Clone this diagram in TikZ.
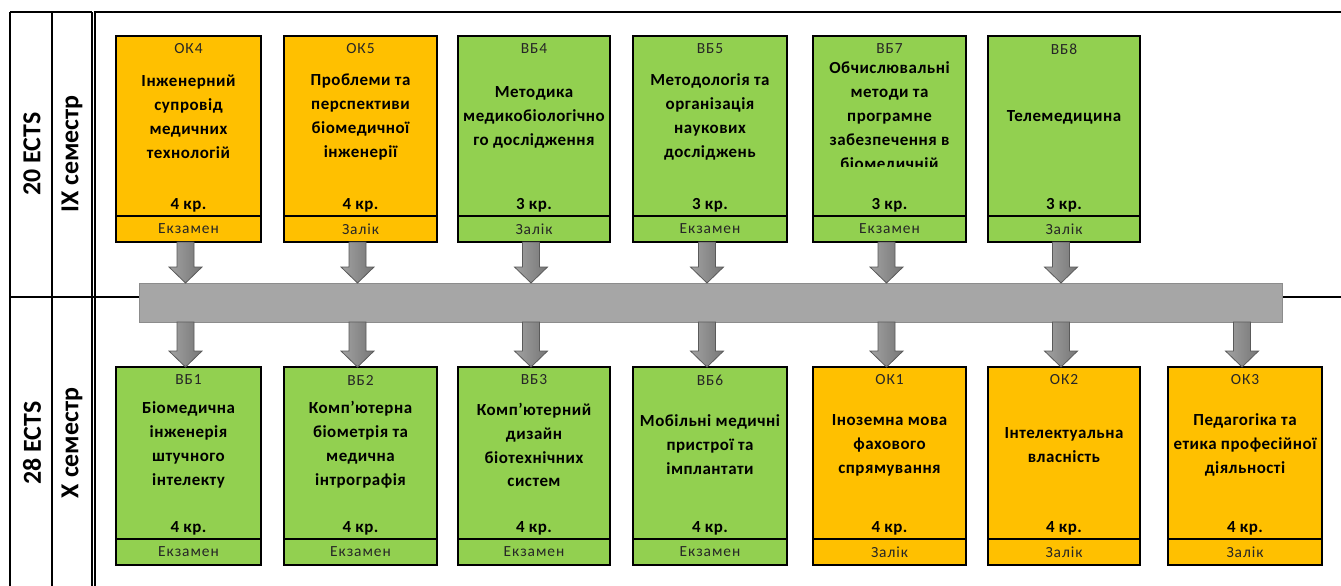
\documentclass[tikz,border=0pt]{standalone}
\usepackage{fontspec}
\setmainfont{Carlito}
\newfontfamily\titlefam{Carlito}[LetterSpace=3.0]
\newfontfamily\smallfam{Carlito}[LetterSpace=6.0]
\usetikzlibrary{calc}
\definecolor{okorange}{HTML}{FFC000}
\definecolor{vbgreen}{HTML}{92D050}
\definecolor{barfill}{HTML}{A6A6A6}
\definecolor{barline}{HTML}{8C8C8C}
\definecolor{arrL}{HTML}{A2A2A2}
\definecolor{arrR}{HTML}{767676}
\definecolor{arrD}{HTML}{5A5A5A}

\tikzset{
  cbox/.style={draw=black, line width=2.6bp, inner sep=0pt, outer sep=0pt},
  codetxt/.style={font=\smallfam\fontsize{15.5}{17}\selectfont, inner sep=0pt, text=black!85},
  titletxt/.style={font=\titlefam\bfseries\fontsize{17}{24}\selectfont, align=center, inner sep=0pt},
  credtxt/.style={font=\titlefam\bfseries\fontsize{17}{19}\selectfont, inner sep=0pt},
  examtxt/.style={font=\smallfam\fontsize{15.5}{17}\selectfont, inner sep=0pt, text=black!85},
  divider/.style={line width=1.3bp},
  sidetxt/.style={font=\bfseries\fontsize{26}{28}\selectfont, rotate=90, inner sep=0pt},
  gridline/.style={line width=1.2bp},
  thickline/.style={line width=2.8bp},
  barbox/.style={fill=barfill, draw=barline, line width=1bp, inner sep=0pt, outer sep=0pt},
  arrowshade/.style={left color=arrL, right color=arrR, draw=arrD, line width=0.8bp, line join=miter},
}

% name, x1, x2, fill, code, title, credits, exam
\newcommand\coursebox[8]{%
  \node[cbox, fill=#4, minimum width={(#3-#2)*1bp}, minimum height={(\rBot-\rTop)*1bp}]
     (#1) at ({(#2+#3)/2},{(\rTop+\rBot)/2}) {};
  \draw[divider] (#2,\rDiv) -- (#3,\rDiv);
  \node[codetxt] (#1code) at ({(#2+#3)/2},\rCode) {#5};
  \begin{scope}
    \clip (#2,\rTop) rectangle (#3,\rClip);
    \node[titletxt] (#1title) at ({(#2+#3)/2},\rTitle) {#6};
  \end{scope}
  \node[credtxt] (#1cred) at ({(#2+#3)/2},\rCred) {#7};
  \node[examtxt] (#1exam) at ({(#2+#3)/2},\rExam) {#8};
}

% block arrow from start point to tip point (same x)
\newcommand\blockarrow[2]{%
  \path[arrowshade] let \p1=(#1), \p2=(#2) in
    (\x1-11.5bp,\y1) -- (\x1+5.5bp,\y1) -- (\x1+5.5bp,\y2+16bp) -- (\x1+13.5bp,\y2+16bp)
    -- (\x1-3bp,\y2) -- (\x1-19.5bp,\y2+16bp) -- (\x1-11.5bp,\y2+16bp) -- cycle;
}

\begin{document}
\begin{tikzpicture}[x=1bp, y=-1bp]
  \fill[white] (0,0) rectangle (1341,586);
  \useasboundingbox (0,0) rectangle (1341,586);

  % table lines
  \draw[gridline] (10,12) -- (10,586);
  \draw[gridline] (52,12) -- (52,586);
  \draw[gridline] (92,12) -- (92,586);
  \draw[gridline] (10,12) -- (92,12);
  \draw[gridline] (10,297) -- (1341,297);
  \draw[thickline] (95,12) -- (95,586);
  \draw[thickline] (93.6,12) -- (1341,12);

  % side labels
  \node[sidetxt] (ects1) at (32,154) {20 ECTS};
  \node[sidetxt] (sem1) at (72,154) {IX семестр};
  \node[sidetxt] (ects2) at (32,443) {28 ECTS};
  \node[sidetxt] (sem2) at (72,443) {X семестр};

  % central bar
  \node[barbox, minimum width=1142bp, minimum height=39bp] (bar) at (711,302.5) {};

  % top row
  \def\rTop{36}\def\rBot{242}\def\rDiv{216}\def\rCode{49}\def\rTitle{117}
  \def\rCred{205}\def\rExam{229}\def\rClip{167}
  \coursebox{ok4}{116}{261}{okorange}{ОК4}{Інженерний\\супровід\\медичних\\технологій}{4 кр.}{Екзамен}
  \coursebox{ok5}{284}{437}{okorange}{ОК5}{Проблеми та\\перспективи\\біомедичної\\інженерії}{4 кр.}{Залік}
  \coursebox{vb4}{458}{610}{vbgreen}{ВБ4}{Методика\\медикобіологічно\\го дослідження}{3 кр.}{Залік}
  \coursebox{vb5}{633}{787}{vbgreen}{ВБ5}{Методологія та\\організація\\наукових\\досліджень}{3 кр.}{Екзамен}
  \coursebox{vb7}{813}{966}{vbgreen}{ВБ7}{Обчислювальні\\методи та\\програмне\\забезпечення в\\біомедичній}{3 кр.}{Екзамен}
  \coursebox{vb8}{988}{1140}{vbgreen}{ВБ8}{Телемедицина}{3 кр.}{Залік}

  % bottom row
  \def\rTop{367}\def\rBot{565}\def\rDiv{539}\def\rCode{380}\def\rTitle{445}
  \def\rCred{528}\def\rExam{552}\def\rClip{520}
  \coursebox{vb1}{116}{261}{vbgreen}{ВБ1}{Біомедична\\інженерія\\штучного\\інтелекту}{4 кр.}{Екзамен}
  \coursebox{vb2}{284}{437}{vbgreen}{ВБ2}{Комп’ютерна\\біометрія та\\медична\\інтрографія}{4 кр.}{Екзамен}
  \coursebox{vb3}{458}{610}{vbgreen}{ВБ3}{Комп’ютерний\\дизайн\\біотехнічних\\систем}{4 кр.}{Екзамен}
  \coursebox{vb6}{633}{787}{vbgreen}{ВБ6}{Мобільні медичні\\пристрої та\\імплантати}{4 кр.}{Екзамен}
  \coursebox{ok1}{813}{966}{okorange}{ОК1}{Іноземна мова\\фахового\\спрямування}{4 кр.}{Залік}
  \coursebox{ok2}{988}{1140}{okorange}{ОК2}{Інтелектуальна\\власність}{4 кр.}{Залік}
  \coursebox{ok3}{1168}{1322}{okorange}{ОК3}{Педагогіка та\\етика професійної\\діяльності}{4 кр.}{Залік}

  % arrows
  \foreach \bx in {ok4,ok5,vb4,vb5,vb7,vb8} {\blockarrow{\bx.south}{\bx.south |- bar.north}}
  \foreach \bx in {vb1,vb2,vb3,vb6,ok1,ok2,ok3} {\blockarrow{bar.south -| \bx.north}{\bx.north}}
\end{tikzpicture}
\end{document}
